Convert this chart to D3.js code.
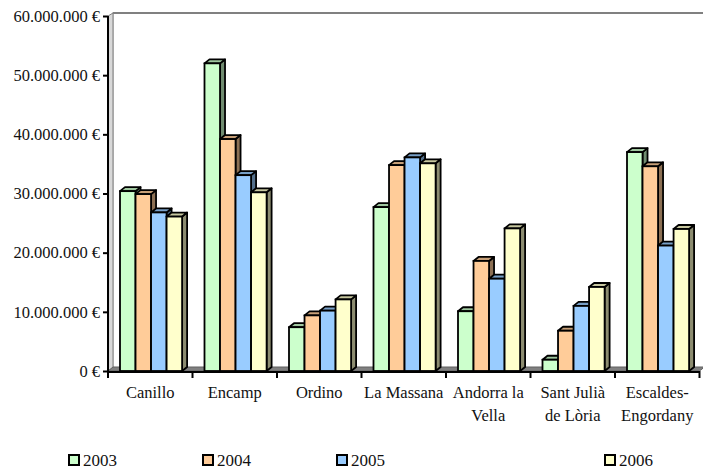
<!DOCTYPE html>
<html>
<head>
<meta charset="utf-8">
<script src="https://cdn.jsdelivr.net/npm/d3@7"></script>
<style>
  body { margin: 0; background: #fff; }
</style>
</head>
<body>
<div id="wrapper"></div>
<script>
// data
const municipis = ["Canillo", "Encamp", "Ordino", "La Massana", "Andorra la Vella", "Sant Julià de Lòria", "Escaldes-Engordany"]
const labelLines = [["Canillo"], ["Encamp"], ["Ordino"], ["La Massana"], ["Andorra la", "Vella"], ["Sant Julià", "de Lòria"], ["Escaldes-", "Engordany"]]
const years = ["2003", "2004", "2005", "2006"]
const values2003 = [30.4e6, 52.0e6, 7.4e6, 27.7e6, 10.1e6, 1.9e6, 37.0e6]
const values2004 = [29.9e6, 39.2e6, 9.4e6, 34.8e6, 18.6e6, 6.8e6, 34.6e6]
const values2005 = [26.8e6, 33.1e6, 10.2e6, 36.1e6, 15.6e6, 11.0e6, 21.2e6]
const values2006 = [26.1e6, 30.2e6, 12.1e6, 35.1e6, 24.1e6, 14.2e6, 24.0e6]
const yTicks = [0, 10e6, 20e6, 30e6, 40e6, 50e6, 60e6]
const colors = ["#ccffcc", "#ffcc99", "#99ccff", "#ffffcc"]

const series = [values2003, values2004, values2005, values2006]

const FONT = "'Liberation Serif', 'Times New Roman', serif"

// dimensions
const dimensions = {
  width: 703,
  height: 470,
  plotLeft: 108,
  plotRight: 699.5,
  plotTop: 16,
  plotBottom: 371,
}
const depth = { dx: 5, dy: -4 }

const svg = d3.select("#wrapper")
  .append("svg")
  .attr("width", dimensions.width)
  .attr("height", dimensions.height)
  .attr("font-family", FONT)

// scales
const xScale = d3.scaleBand()
  .domain(municipis)
  .range([dimensions.plotLeft, dimensions.plotRight])
  .paddingInner(0)
  .paddingOuter(0)

const subScale = d3.scaleBand()
  .domain(years)
  .range([0, xScale.bandwidth() * 0.735])

const yScale = d3.scaleLinear()
  .domain([0, 60e6])
  .range([dimensions.plotBottom, dimensions.plotTop])

const groupOffset = xScale.bandwidth() * 0.142

// walls
const L = dimensions.plotLeft, R = dimensions.plotRight
const T = dimensions.plotTop, B = dimensions.plotBottom
svg.append("rect")
  .attr("x", L + depth.dx)
  .attr("y", T + depth.dy + 1)
  .attr("width", R - L)
  .attr("height", B - T)
  .attr("fill", "#fff")
  .attr("stroke", "#c0c0c0")
  .attr("stroke-width", 1.5)
svg.append("line")
  .attr("x1", L + depth.dx).attr("x2", R + depth.dx)
  .attr("y1", T + depth.dy + 1).attr("y2", T + depth.dy + 1)
  .attr("stroke", "#808080").attr("stroke-width", 2)
svg.append("polygon")
  .attr("points", [[L, T], [L + depth.dx, T + depth.dy + 1], [L + depth.dx, B + depth.dy + 1], [L, B]].join(" "))
  .attr("fill", "#d8d8d8")
  .attr("stroke", "#808080")
  .attr("stroke-width", 1)
svg.append("polygon")
  .attr("points", [[L, B], [L + depth.dx, B + depth.dy], [R + depth.dx, B + depth.dy], [R, B]].join(" "))
  .attr("fill", "#808080")
  .attr("stroke", "#606060")
  .attr("stroke-width", 1)

// bars
function shade(c, k) {
  const col = d3.rgb(c)
  return d3.rgb(col.r * k, col.g * k, col.b * k).formatHex()
}

const barsG = svg.append("g")
municipis.forEach((m, i) => {
  years.forEach((yr, j) => {
    const v = series[j][i]
    const x0 = xScale(m) + groupOffset + subScale(yr)
    const x1 = x0 + subScale.bandwidth()
    const y0 = yScale(v)
    const yb = yScale(0)
    const g = barsG.append("g")
    // side
    g.append("polygon")
      .attr("points", [[x1, y0], [x1 + depth.dx, y0 + depth.dy], [x1 + depth.dx, yb + depth.dy], [x1, yb]].join(" "))
      .attr("fill", shade(colors[j], 0.55))
      .attr("stroke", "#000").attr("stroke-width", 1.8).attr("stroke-linejoin", "round")
    // top
    g.append("polygon")
      .attr("points", [[x0, y0], [x0 + depth.dx, y0 + depth.dy], [x1 + depth.dx, y0 + depth.dy], [x1, y0]].join(" "))
      .attr("fill", shade(colors[j], 0.78))
      .attr("stroke", "#000").attr("stroke-width", 1.8).attr("stroke-linejoin", "round")
    // front
    g.append("rect")
      .attr("x", x0).attr("y", y0)
      .attr("width", x1 - x0).attr("height", yb - y0)
      .attr("fill", colors[j])
      .attr("stroke", "#000").attr("stroke-width", 1.8)
  })
})

// y axis
const yAxisGen = d3.axisLeft(yScale)
  .tickValues(yTicks)
  .tickSize(5)
  .tickPadding(3)
  .tickFormat(d => d3.format(",")(d).replace(/,/g, ".") + " €")
const yAxis = svg.append("g")
  .attr("transform", `translate(${L},0)`)
  .call(yAxisGen)
  .attr("font-family", FONT)
  .attr("font-size", 16.5)
yAxis.select(".domain").attr("stroke", "#000").attr("stroke-width", 2)
  .attr("d", `M0,${T}V${B + 2}`)
yAxis.selectAll(".tick line").attr("stroke", "#000").attr("stroke-width", 2)
yAxis.selectAll(".tick text")
  .attr("fill", "#111")

// x axis
const xAxisG = svg.append("g")
xAxisG.append("line")
  .attr("x1", L).attr("x2", R)
  .attr("y1", B + 1).attr("y2", B + 1)
  .attr("stroke", "#000").attr("stroke-width", 2)
const boundaries = municipis.map(m => xScale(m)).concat([R])
xAxisG.selectAll(".xtick")
  .data(boundaries)
  .join("line")
  .attr("x1", d => d).attr("x2", d => d)
  .attr("y1", B).attr("y2", B + 7)
  .attr("stroke", "#000").attr("stroke-width", 2)

const labels = xAxisG.selectAll(".xlabel")
  .data(municipis)
  .join("text")
  .attr("x", d => xScale(d) + xScale.bandwidth() / 2)
  .attr("y", 398)
  .attr("text-anchor", "middle")
  .attr("fill", "#111")
  .attr("font-size", 16.5)
labels.each(function (d, i) {
  d3.select(this).selectAll("tspan")
    .data(labelLines[i])
    .join("tspan")
    .attr("x", xScale(d) + xScale.bandwidth() / 2)
    .attr("dy", (t, k) => k === 0 ? 0 : 23)
    .text(t => t)
})

// legend
const legendX = [69, 203, 337, 605]
const legend = svg.append("g")
const items = legend.selectAll("g")
  .data(years)
  .join("g")
  .attr("transform", (d, i) => `translate(${legendX[i]},455)`)
items.append("rect")
  .attr("width", 10).attr("height", 10)
  .attr("fill", (d, i) => colors[i])
  .attr("stroke", "#000").attr("stroke-width", 2)
items.append("text")
  .attr("x", 14).attr("y", 11)
  .attr("fill", "#111")
  .attr("font-size", 17)
  .text(d => d)
</script>
</body>
</html>
